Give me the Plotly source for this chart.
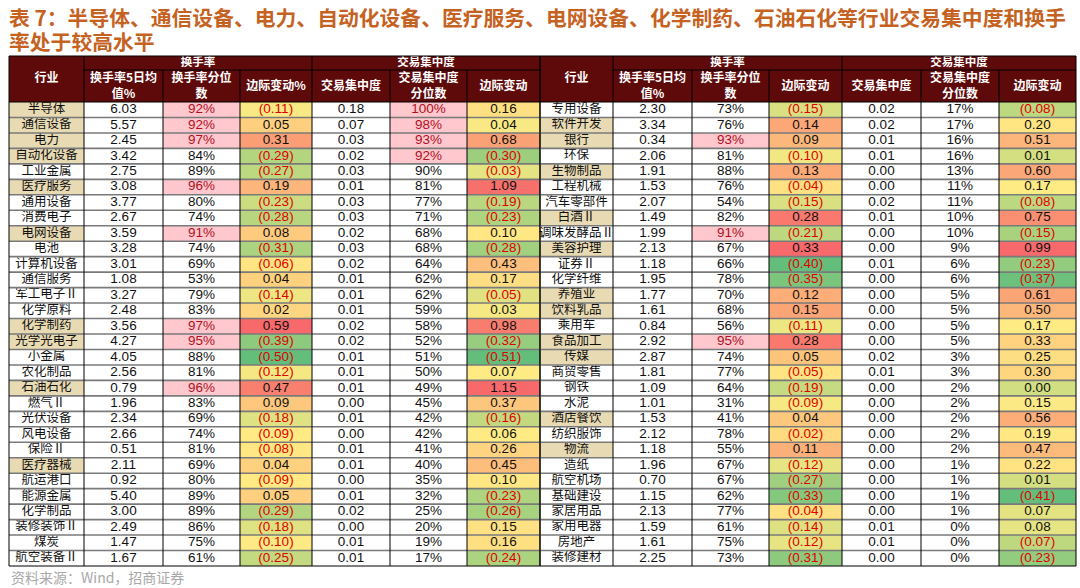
import numpy as np
import plotly.graph_objects as go

left_ind = ["半导体", "通信设备", "电力", "自动化设备", "工业金属", "医疗服务", "通用设备", "消费电子",
            "电网设备", "电池", "计算机设备", "通信服务", "军工电子Ⅱ", "化学原料", "化学制药", "光学光电子",
            "小金属", "农化制品", "石油石化", "燃气Ⅱ", "光伏设备", "风电设备", "保险Ⅱ", "医疗器械",
            "航运港口", "能源金属", "化学制品", "装修装饰Ⅱ", "煤炭", "航空装备Ⅱ"]
left_to = [6.03, 5.57, 2.45, 3.42, 2.75, 3.08, 3.77, 2.67, 3.59, 3.28, 3.01, 1.08, 3.27, 2.48, 3.56,
           4.27, 4.05, 2.56, 0.79, 1.96, 2.34, 2.66, 0.51, 2.11, 0.92, 5.40, 3.00, 2.49, 1.47, 1.67]
left_to_pct = [92, 92, 97, 84, 89, 96, 80, 74, 91, 74, 69, 53, 79, 83, 97, 95, 88, 81, 96, 83,
               69, 74, 81, 69, 80, 89, 89, 86, 75, 61]
left_to_chg = [-0.11, 0.05, 0.31, -0.29, -0.27, 0.19, -0.23, -0.28, 0.08, -0.31, -0.06, 0.04, -0.14,
               0.02, 0.59, -0.39, -0.50, -0.12, 0.47, 0.09, -0.18, -0.09, -0.08, 0.04, -0.09, 0.05,
               -0.29, -0.18, -0.10, -0.25]
left_conc = [0.18, 0.07, 0.03, 0.02, 0.03, 0.01, 0.03, 0.03, 0.02, 0.03, 0.02, 0.01, 0.01, 0.01, 0.02,
             0.02, 0.01, 0.01, 0.01, 0.00, 0.01, 0.00, 0.01, 0.01, 0.00, 0.01, 0.02, 0.00, 0.01, 0.01]
left_conc_pct = [100, 98, 93, 92, 90, 81, 77, 71, 68, 68, 64, 62, 62, 59, 58, 52, 51, 50, 49, 45,
                 42, 42, 41, 40, 35, 32, 25, 20, 19, 17]
left_conc_chg = [0.16, 0.04, 0.68, -0.30, -0.03, 1.09, -0.19, -0.23, 0.10, -0.28, 0.43, 0.17, -0.05,
                 0.03, 0.98, -0.32, -0.51, 0.07, 1.15, 0.37, -0.16, 0.06, 0.26, 0.45, 0.10, -0.23,
                 -0.26, 0.15, 0.16, -0.24]
left_tan = [1, 1, 1, 1, 0, 1, 0, 0, 1, 0, 0, 0, 0, 0, 1, 1, 0, 0, 1, 0, 0, 0, 0, 1, 0, 0, 0, 0, 0, 0]

right_ind = ["专用设备", "软件开发", "银行", "环保", "生物制品", "工程机械", "汽车零部件", "白酒Ⅱ",
             "调味发酵品Ⅱ", "美容护理", "证券Ⅱ", "化学纤维", "养殖业", "饮料乳品", "乘用车", "食品加工",
             "传媒", "商贸零售", "钢铁", "水泥", "酒店餐饮", "纺织服饰", "物流", "造纸", "航空机场",
             "基础建设", "家居用品", "家用电器", "房地产", "装修建材"]
right_to = [2.30, 3.34, 0.34, 2.06, 1.91, 1.53, 2.07, 1.49, 1.99, 2.13, 1.18, 1.95, 1.77, 1.61, 0.84,
            2.92, 2.87, 1.81, 1.09, 1.01, 1.53, 2.12, 1.18, 1.96, 0.70, 1.15, 2.13, 1.59, 1.61, 2.25]
right_to_pct = [73, 76, 93, 81, 88, 76, 54, 82, 91, 67, 66, 78, 70, 68, 56, 95, 74, 77, 64, 31,
                41, 78, 55, 67, 67, 62, 77, 61, 75, 73]
right_to_chg = [-0.15, 0.14, 0.09, -0.10, 0.13, -0.04, -0.15, 0.28, -0.21, 0.33, -0.40, -0.35, 0.12,
                0.15, -0.11, 0.28, 0.05, -0.05, -0.19, -0.09, 0.04, -0.02, 0.11, -0.12, -0.27, -0.33,
                -0.04, -0.14, -0.12, -0.31]
right_conc = [0.02, 0.02, 0.01, 0.01, 0.00, 0.00, 0.02, 0.01, 0.00, 0.00, 0.01, 0.00, 0.00, 0.00, 0.00,
              0.00, 0.02, 0.01, 0.00, 0.00, 0.00, 0.00, 0.00, 0.00, 0.00, 0.00, 0.00, 0.01, 0.01, 0.00]
right_conc_pct = [17, 17, 16, 16, 13, 11, 11, 10, 10, 9, 6, 6, 5, 5, 5, 5, 3, 3, 2, 2,
                  2, 2, 2, 1, 1, 1, 1, 0, 0, 0]
right_conc_chg = [-0.08, 0.20, 0.51, 0.01, 0.60, 0.17, -0.08, 0.75, -0.15, 0.99, -0.23, -0.37, 0.61,
                  0.50, 0.17, 0.33, 0.25, 0.30, 0.00, 0.15, 0.56, 0.19, 0.47, 0.22, 0.01, -0.41, 0.07,
                  0.08, -0.07, -0.23]
right_tan = [0, 1, 1, 0, 1, 0, 0, 1, 0, 1, 0, 0, 1, 1, 0, 1, 1, 0, 0, 0, 1, 0, 1, 0, 0, 0, 0, 0, 0, 0]

title_1 = "表 7：半导体、通信设备、电力、自动化设备、医疗服务、电网设备、化学制药、石油石化等行业交易集中度和换手"
title_2 = "率处于较高水平"
source = "资料来源：Wind，招商证券"
group_heads = ["换手率", "交易集中度"]
left_heads = ["行业", "换手率5日均<br>值%", "换手率分位<br>数", "边际变动%", "交易集中度", "交易集中度<br>分位数", "边际变动"]
right_heads = ["行业", "换手率5日均<br>值%", "换手率分位<br>数", "边际变动", "交易集中度", "交易集中度<br>分位数", "边际变动"]

# ---- styling ----
HEAD = "#5E0A0A"
TAN = "#E8DAB2"
PINK = "#FFC7CE"
PINK_TXT = "#B0101C"
NEG = "#E00000"
GREEN, YELLOW, RED = (99, 190, 123), (255, 235, 132), (248, 105, 107)
CJK = "Noto Sans CJK SC"
NUM = "Arial, Liberation Sans, " + CJK

W, H = 1080, 588
top, h1, h2, bottom = 56, 70, 102, 566


def heat(vals):
    lo, mid, hi = min(vals), float(np.percentile(vals, 50)), max(vals)
    out = []
    for v in vals:
        if v <= mid:
            t = 0 if mid == lo else (v - lo) / (mid - lo)
            a, b = GREEN, YELLOW
        else:
            t = (v - mid) / (hi - mid)
            a, b = YELLOW, RED
        c = [round(a[k] + (b[k] - a[k]) * t) for k in range(3)]
        out.append("rgb(%d,%d,%d)" % tuple(c))
    return out


def fmt_chg(v):
    return "(%.2f)" % abs(v) if v < 0 else "%.2f" % v


fig = go.Figure()
shapes = []


def rect(x0, x1, y0, y1, color):
    shapes.append(dict(type="rect", xref="x", yref="y", x0=x0, x1=x1, y0=y0, y1=y1,
                       fillcolor=color, line=dict(width=0), layer="below"))


def line(x0, x1, y0, y1, color, width):
    shapes.append(dict(type="line", xref="x", yref="y", x0=x0, x1=x1, y0=y0, y1=y1,
                       line=dict(color=color, width=width), layer="above"))


def text(xs, ys, txt, color, family, size):
    fig.add_trace(go.Scatter(x=xs, y=ys, text=txt, mode="text", textposition="middle center",
                             textfont=dict(color=color, family=family, size=size),
                             hoverinfo="skip", showlegend=False))


def draw_table(x_start, widths, heads, ind, to, to_pct, to_chg, conc, conc_pct, conc_chg, tan):
    n = len(ind)
    edges = list(np.cumsum([x_start] + widths))
    mids = [(edges[i] + edges[i + 1]) / 2 for i in range(len(widths))]
    rh = (bottom - h2) / n
    ys = [h2 + rh * (i + 0.5) for i in range(n)]

    # header block
    rect(edges[0], edges[-1], top, h2, HEAD)
    text([mids[0]], [(top + h2) / 2], ["<b>" + heads[0] + "</b>"], "white", CJK, 12)
    text([(edges[1] + edges[4]) / 2, (edges[4] + edges[7]) / 2], [(top + h1) / 2] * 2,
         ["<b>%s</b>" % g for g in group_heads], "white", CJK, 11.5)
    text(mids[1:], [(h1 + h2) / 2 + 1] * 6, ["<b>%s</b>" % h for h in heads[1:]], "white", CJK, 12)

    # body fills
    to_heat, conc_heat = heat(to_chg), heat(conc_chg)
    for i in range(n):
        y0, y1 = h2 + rh * i, h2 + rh * (i + 1)
        if tan[i]:
            rect(edges[0], edges[1], y0, y1, TAN)
        if to_pct[i] > 90:
            rect(edges[2], edges[3], y0, y1, PINK)
        if conc_pct[i] > 90:
            rect(edges[5], edges[6], y0, y1, PINK)
        rect(edges[3], edges[4], y0, y1, to_heat[i])
        rect(edges[6], edges[7], y0, y1, conc_heat[i])

    # body text
    text([mids[0]] * n, ys, ind, "#111111", CJK, 12.5)
    text([mids[1]] * n, ys, ["%.2f" % v for v in to], "#111111", NUM, 13.5)
    text([mids[2]] * n, ys, ["%d%%" % v for v in to_pct],
         [PINK_TXT if v > 90 else "#111111" for v in to_pct], NUM, 13.5)
    text([mids[3]] * n, ys, [fmt_chg(v) for v in to_chg],
         [NEG if v < 0 else "#111111" for v in to_chg], NUM, 13.5)
    text([mids[4]] * n, ys, ["%.2f" % v for v in conc], "#111111", NUM, 13.5)
    text([mids[5]] * n, ys, ["%d%%" % v for v in conc_pct],
         [PINK_TXT if v > 90 else "#111111" for v in conc_pct], NUM, 13.5)
    text([mids[6]] * n, ys, [fmt_chg(v) for v in conc_chg],
         [NEG if v < 0 else "#111111" for v in conc_chg], NUM, 13.5)

    # grid
    for i in range(1, n):
        line(edges[0], edges[-1], h2 + rh * i, h2 + rh * i, "#7A7A7A", 1.6)
    for k, e in enumerate(edges):
        if k in (0, 1, 4, 7):
            line(e, e, top, bottom, "black", 1)
        else:
            line(e, e, h1, bottom, "black", 1)
    line(edges[1], edges[-1], h1, h1, "black", 1)
    line(edges[0], edges[-1], top, top, "black", 1)
    line(edges[0], edges[-1], h2, h2, "black", 1.2)
    line(edges[0], edges[-1], bottom, bottom, "black", 1.2)


draw_table(9, [75, 79, 77, 72, 78, 77, 73], left_heads, left_ind, left_to, left_to_pct, left_to_chg,
           left_conc, left_conc_pct, left_conc_chg, left_tan)
draw_table(540, [73, 79, 77, 73, 79, 78, 77], right_heads, right_ind, right_to, right_to_pct,
           right_to_chg, right_conc, right_conc_pct, right_conc_chg, right_tan)

annotations = [
    dict(x=7, y=17, xref="x", yref="y", text="<b>" + title_1 + "</b>", showarrow=False,
         xanchor="left", yanchor="middle", font=dict(family=CJK, size=20.8, color="#C5621F")),
    dict(x=7, y=41, xref="x", yref="y", text="<b>" + title_2 + "</b>", showarrow=False,
         xanchor="left", yanchor="middle", font=dict(family=CJK, size=20.8, color="#C5621F")),
    dict(x=9, y=577, xref="x", yref="y", text=source, showarrow=False,
         xanchor="left", yanchor="middle", font=dict(family=CJK, size=14, color="#A8A8A8")),
]

fig.update_layout(
    width=W, height=H,
    margin=dict(l=0, r=0, t=0, b=0),
    paper_bgcolor="white", plot_bgcolor="white",
    xaxis=dict(range=[0, W], visible=False, fixedrange=True),
    yaxis=dict(range=[H, 0], visible=False, fixedrange=True),
    shapes=shapes,
    annotations=annotations,
    showlegend=False,
)

# page body has a default 8px margin; drop it so the 1080x588 figure fills the window
fig.write_html("out.html", config={"displayModeBar": False},
               post_script="document.body.style.margin='0';document.body.style.overflow='hidden';")
